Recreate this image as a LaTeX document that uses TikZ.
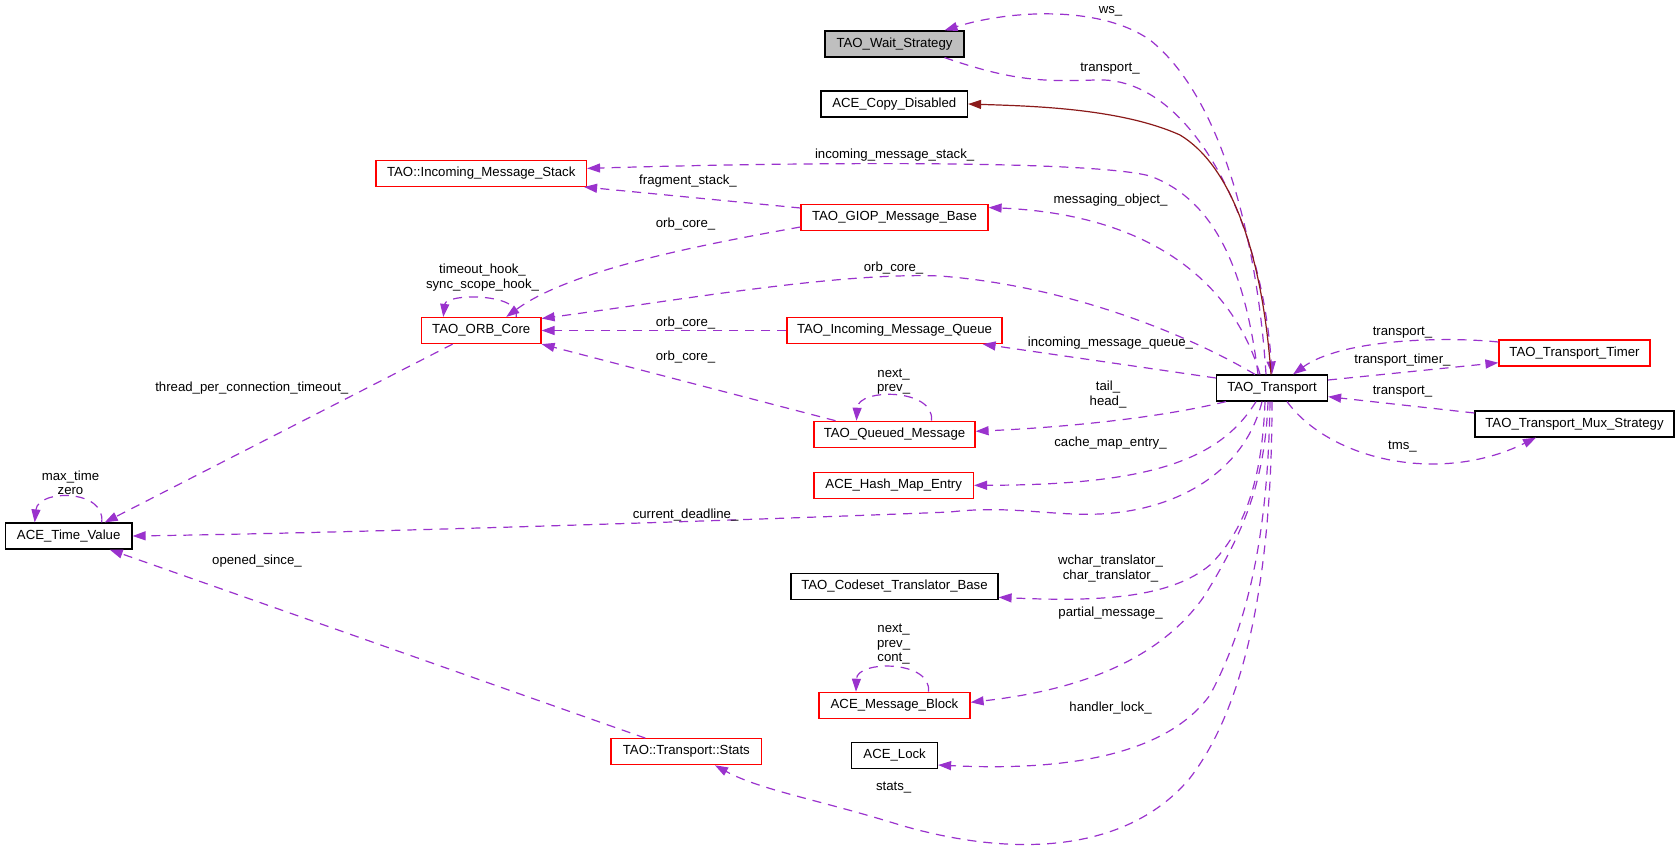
\documentclass[tikz,border=0pt]{standalone}
\usepackage{fontspec}
\setmainfont{Liberation Sans}
\usetikzlibrary{arrows.meta,calc}
\definecolor{edgep}{HTML}{9A32CD}
\definecolor{inhc}{HTML}{8B1A1A}
\definecolor{grayfill}{HTML}{BFBFBF}
\begin{document}
\begin{tikzpicture}[x=1pt,y=-1pt,
  every node/.style={font=\fontsize{13.2}{14.5}\selectfont},
  cls/.style={draw=black,line width=1.2pt,fill=white,minimum height=26pt,inner sep=0pt},
  redcls/.style={cls,draw=red},
  usesedge/.style={draw=edgep,line width=1.2pt,dash pattern=on 9pt off 7pt,-{Triangle[length=13pt,width=9pt]}},
  inhedge/.style={draw=inhc,line width=1.2pt,-{Triangle[length=13pt,width=9pt]}},
  lbl/.style={inner sep=0pt,align=center}]
\useasboundingbox (0,0) rectangle (1680,852);
% nodes
\node[cls,fill=grayfill,minimum width=139pt] (wait) at (894.5,44) {TAO\_Wait\_Strategy};
\node[cls,minimum width=146.5pt] (copy) at (894.25,104) {ACE\_Copy\_Disabled};
\node[redcls,minimum width=210.5pt] (ims) at (481.25,173.4) {TAO::Incoming\_Message\_Stack};
\node[redcls,minimum width=187pt] (giop) at (894.5,217.5) {TAO\_GIOP\_Message\_Base};
\node[redcls,minimum width=119.5pt] (orb) at (481.25,330.5) {TAO\_ORB\_Core};
\node[redcls,minimum width=215pt] (imq) at (894.5,330.5) {TAO\_Incoming\_Message\_Queue};
\node[cls,minimum width=111pt] (transport) at (1272,388) {TAO\_Transport};
\node[redcls,minimum width=151pt] (timer) at (1574.5,353) {TAO\_Transport\_Timer};
\node[cls,minimum width=199pt] (mux) at (1574.5,424) {TAO\_Transport\_Mux\_Strategy};
\node[redcls,minimum width=161pt] (qm) at (894.5,434.3) {TAO\_Queued\_Message};
\node[redcls,minimum width=159.5pt] (hme) at (893.7,485.3) {ACE\_Hash\_Map\_Entry};
\node[cls,minimum width=126.6pt] (tv) at (68.7,536) {ACE\_Time\_Value};
\node[cls,minimum width=207pt] (ctb) at (894.5,586.3) {TAO\_Codeset\_Translator\_Base};
\node[redcls,minimum width=151pt] (mb) at (894.5,705.3) {ACE\_Message\_Block};
\node[cls,minimum width=85.7pt] (lock) at (894.65,755.5) {ACE\_Lock};
\node[redcls,minimum width=150.7pt] (stats) at (686.35,751.7) {TAO::Transport::Stats};
% edges
\draw[usesedge] ([xshift=-6pt]transport.north) .. controls (1258,250) and (1225,100) .. (1150,40) .. controls (1100,5) and (1010,10) .. ([xshift=50pt]wait.north);
\node[lbl] (l1) at (1110.5,11.7) {ws\_};
\draw[usesedge] ([xshift=50pt]wait.south) .. controls (1010,80) and (1040,82) .. (1095,80) .. controls (1190,75) and (1262,220) .. (transport.north);
\node[lbl] (l2) at (1110,69) {transport\_};
\draw[inhedge] ([xshift=-1pt]transport.north) .. controls (1262,250) and (1230,165) .. (1180,135) .. controls (1120,108) and (1030,106) .. (copy.east);
\draw[usesedge] ([xshift=-14pt]transport.north) .. controls (1245,270) and (1215,200) .. (1150,176) .. controls (1090,160) and (800,162) .. ([yshift=5pt]ims.east);
\node[lbl] (l3) at (894.6,155) {incoming\_message\_stack\_};
\draw[usesedge] ([yshift=9.5pt]giop.west) -- ([xshift=-3pt]ims.south east);
\node[lbl] (l4) at (688,180.7) {fragment\_stack\_};
\draw[usesedge] ([yshift=-9.5pt]giop.west) .. controls (700,245) and (570,270) .. ([xshift=25pt]orb.north);
\node[lbl] (l5) at (685.6,224) {orb\_core\_};
\draw[usesedge] ([xshift=-12pt]transport.north) .. controls (1235,290) and (1160,215) .. ([yshift=10pt]giop.east);
\node[lbl] (l6) at (1110.5,200) {messaging\_object\_};
\draw[usesedge] ([xshift=-17pt]transport.north) .. controls (1180,330) and (1060,285) .. (940,276) .. controls (840,272) and (680,300) .. ([yshift=12pt]orb.east);
\node[lbl] (l7) at (893.6,267.7) {orb\_core\_};
\draw[usesedge] (imq.west) -- (orb.east);
\node[lbl] (l8) at (685.6,322.7) {orb\_core\_};
\draw[usesedge] ([xshift=-59pt]qm.north) -- (orb.south east);
\node[lbl] (l9) at (685.6,356.7) {orb\_core\_};
\draw[usesedge] ([yshift=10pt]transport.west) -- ([xshift=-20pt]imq.south east);
\node[lbl] (l10) at (1110.5,343.3) {incoming\_message\_queue\_};
\draw[usesedge] ([xshift=-46pt]transport.south) .. controls (1150,420) and (1050,428) .. ([yshift=3pt]qm.east);
\node[lbl] (l11) at (1108,394.5) {tail\_\\head\_};
\draw[usesedge] ([xshift=37pt]qm.north) .. controls (935,388) and (858,388) .. ([xshift=-38pt]qm.north);
\node[lbl] (l12) at (893.6,381.7) {next\_\\prev\_};
\draw[usesedge] ([xshift=-16pt]transport.south) .. controls (1220,460) and (1150,485) .. (hme.east);
\node[lbl] (l13) at (1110.5,442.7) {cache\_map\_entry\_};
\draw[usesedge] ([xshift=-10pt]transport.south) .. controls (1245,470) and (1180,510) .. (1100,514) .. controls (1050,516) and (1010,505) .. (950,512) .. controls (800,518) and (400,532) .. (tv.east);
\node[lbl] (l14) at (685.6,515.3) {current\_deadline\_};
\draw[usesedge] ([xshift=33pt]tv.north) .. controls (106,489) and (38,489) .. ([xshift=-34pt]tv.north);
\node[lbl] (l15) at (70.5,482.8) {max\_time\\zero};
\draw[usesedge] ([xshift=35pt]orb.north) .. controls (522,293) and (446,293) .. ([xshift=-38pt]orb.north);
\node[lbl] (l16) at (482.5,277.8) {timeout\_hook\_\\sync\_scope\_hook\_};
\draw[usesedge] ([xshift=-28.6pt]orb.south) -- ([xshift=36pt]tv.north);
\node[lbl] (l17) at (251.8,388.3) {thread\_per\_connection\_timeout\_};
\draw[usesedge] ([xshift=-41pt]stats.north) -- ([xshift=41pt]tv.south);
\node[lbl] (l18) at (257,561) {opened\_since\_};
\draw[usesedge] ([xshift=-7pt]transport.south) .. controls (1262,480) and (1245,530) .. (1210,565) .. controls (1170,598) and (1100,602) .. ([yshift=-11pt]ctb.east);
\node[lbl] (l19) at (1110.5,568.5) {wchar\_translator\_\\char\_translator\_};
\draw[usesedge] ([xshift=-4pt]transport.south) .. controls (1265,480) and (1245,530) .. (1205,595) .. controls (1160,660) and (1080,690) .. ([yshift=3pt]mb.east);
\node[lbl] (l20) at (1110.5,612.7) {partial\_message\_};
\draw[usesedge] ([xshift=34pt]mb.north) .. controls (932,660) and (857,660) .. ([xshift=-38.5pt]mb.north);
\node[lbl] (l21) at (893.6,644.5) {next\_\\prev\_\\cont\_};
\draw[usesedge] ([xshift=-2pt]transport.south) .. controls (1268,530) and (1250,620) .. (1210,695) .. controls (1170,750) and (1080,772) .. ([yshift=-9.5pt]lock.east);
\node[lbl] (l22) at (1110.5,707.7) {handler\_lock\_};
\draw[usesedge] (transport.south) .. controls (1272,560) and (1250,700) .. (1190,778) .. controls (1130,850) and (1020,860) .. (900,825) .. controls (820,800) and (760,790) .. ([xshift=28.6pt]stats.south);
\node[lbl] (l23) at (893.6,787.7) {stats\_};
\draw[usesedge] ([yshift=11pt]timer.west) .. controls (1440,336) and (1340,340) .. ([xshift=21pt]transport.north);
\node[lbl] (l24) at (1402.5,332.7) {transport\_};
\draw[usesedge] ([yshift=8pt]transport.east) -- ([yshift=-9.7pt]timer.west);
\node[lbl] (l25) at (1402.5,360) {transport\_timer\_};
\draw[usesedge] ([yshift=11pt]mux.west) -- ([yshift=-8.7pt]transport.east);
\node[lbl] (l26) at (1402.5,391.7) {transport\_};
\draw[usesedge] ([xshift=15pt]transport.south) .. controls (1330,460) and (1440,485) .. ([xshift=-38.5pt]mux.south);
\node[lbl] (l27) at (1402.5,446.7) {tms\_};
\end{tikzpicture}
\end{document}
